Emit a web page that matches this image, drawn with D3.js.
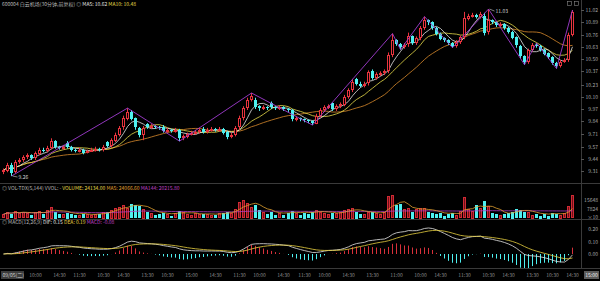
<!DOCTYPE html>
<html>
<head>
<meta charset="utf-8">
<script src="https://cdn.jsdelivr.net/npm/d3@7"></script>
<style>
  html, body { margin: 0; padding: 0; background: #000; }
  svg { display: block; font-family: "Noto Sans CJK SC", "Noto Sans", sans-serif; }
</style>
</head>
<body>
<div id="chart"></div>
<script>
// 600004 白云机场, 30 min bars
const opens = [9.30,9.32,9.38,9.30,9.41,9.43,9.46,9.48,9.45,9.50,
  9.54,9.53,9.56,9.63,9.57,9.56,9.61,9.57,9.54,9.53,
  9.54,9.51,9.53,9.54,9.55,9.54,9.62,9.58,9.64,9.70,
  9.77,9.87,9.94,9.87,9.77,9.70,9.81,9.78,9.79,9.78,
  9.78,9.74,9.75,9.74,9.75,9.66,9.68,9.71,9.72,9.73,
  9.76,9.73,9.75,9.76,9.75,9.76,9.73,9.68,9.70,9.77,
  9.87,9.98,10.07,10.07,10.00,9.98,9.99,10.03,9.99,9.98,
  9.99,9.97,9.96,9.86,9.87,9.86,9.85,9.84,9.82,9.90,
  9.96,9.99,10.03,9.97,10.00,10.02,10.10,10.17,10.29,10.24,
  10.22,10.24,10.37,10.30,10.34,10.35,10.37,10.54,10.70,10.66,
  10.63,10.65,10.74,10.67,10.72,10.83,10.91,10.89,10.83,10.77,
  10.72,10.70,10.67,10.64,10.68,10.73,10.93,10.96,10.97,10.95,
  10.96,10.78,10.91,10.89,10.86,10.87,10.83,10.79,10.73,10.64,
  10.53,10.47,10.60,10.65,10.64,10.60,10.56,10.52,10.46,10.43,
  10.47,10.49,10.76];
const highs = [9.34,9.40,9.40,9.43,9.45,9.48,9.50,9.49,9.52,9.56,
  9.56,9.58,9.66,9.64,9.58,9.59,9.63,9.58,9.55,9.56,
  9.55,9.54,9.56,9.57,9.56,9.59,9.63,9.66,9.72,9.79,
  9.90,9.98,9.96,9.88,9.78,9.79,9.82,9.81,9.80,9.79,
  9.80,9.77,9.76,9.77,9.76,9.70,9.72,9.74,9.75,9.77,
  9.78,9.77,9.78,9.77,9.78,9.77,9.74,9.72,9.79,9.90,
  10.00,10.09,10.14,10.09,10.01,10.01,10.00,10.05,10.00,10.01,
  10.00,9.98,9.97,9.89,9.88,9.87,9.86,9.85,9.92,9.98,
  10.01,10.02,10.04,10.02,10.04,10.12,10.19,10.29,10.30,10.26,
  10.26,10.38,10.39,10.36,10.37,10.39,10.57,10.77,10.71,10.67,
  10.67,10.78,10.75,10.74,10.85,10.95,10.92,10.90,10.84,10.78,
  10.73,10.71,10.68,10.70,10.75,11.00,10.98,10.99,10.98,11.00,
  10.99,11.03,10.92,10.90,10.89,10.88,10.84,10.80,10.74,10.65,
  10.54,10.61,10.67,10.67,10.65,10.61,10.57,10.53,10.47,10.49,
  10.51,10.78,11.02];
const lows = [9.28,9.30,9.26,9.29,9.39,9.41,9.44,9.43,9.43,9.48,
  9.51,9.51,9.54,9.55,9.54,9.54,9.55,9.52,9.51,9.51,
  9.49,9.50,9.52,9.52,9.52,9.52,9.56,9.56,9.62,9.68,
  9.75,9.85,9.85,9.75,9.67,9.64,9.76,9.76,9.76,9.75,
  9.72,9.72,9.72,9.72,9.63,9.64,9.66,9.69,9.70,9.71,
  9.71,9.71,9.73,9.73,9.73,9.70,9.65,9.66,9.68,9.75,
  9.85,9.96,10.05,9.97,9.95,9.96,9.96,9.97,9.96,9.96,
  9.95,9.94,9.84,9.84,9.84,9.83,9.82,9.80,9.81,9.88,
  9.94,9.97,9.95,9.95,9.98,10.00,10.08,10.15,10.22,10.20,
  10.20,10.22,10.28,10.28,10.32,10.33,10.35,10.52,10.64,10.60,
  10.61,10.63,10.65,10.65,10.70,10.81,10.86,10.81,10.75,10.70,
  10.68,10.65,10.62,10.62,10.66,10.71,10.91,10.94,10.93,10.93,
  10.75,10.76,10.87,10.84,10.84,10.81,10.77,10.71,10.62,10.51,
  10.44,10.45,10.58,10.62,10.58,10.54,10.50,10.44,10.40,10.41,
  10.46,10.47,10.74];
const closes = [9.32,9.38,9.30,9.41,9.43,9.46,9.48,9.45,9.50,9.54,
  9.53,9.56,9.63,9.57,9.56,9.57,9.57,9.54,9.53,9.54,
  9.51,9.53,9.54,9.55,9.54,9.57,9.58,9.64,9.70,9.77,
  9.87,9.94,9.87,9.77,9.70,9.77,9.78,9.79,9.78,9.77,
  9.74,9.75,9.74,9.75,9.66,9.68,9.71,9.72,9.73,9.75,
  9.73,9.75,9.76,9.75,9.76,9.72,9.68,9.70,9.77,9.87,
  9.98,10.07,10.11,10.00,9.98,9.99,9.98,9.99,9.98,9.99,
  9.97,9.96,9.86,9.87,9.86,9.85,9.84,9.82,9.90,9.96,
  9.99,10.00,9.97,10.00,10.02,10.10,10.17,10.26,10.24,10.22,
  10.24,10.36,10.30,10.34,10.35,10.37,10.54,10.70,10.66,10.63,
  10.65,10.74,10.67,10.72,10.83,10.91,10.89,10.83,10.77,10.72,
  10.70,10.67,10.64,10.68,10.73,10.93,10.96,10.97,10.95,10.98,
  10.78,10.91,10.89,10.86,10.87,10.83,10.79,10.73,10.64,10.53,
  10.47,10.60,10.65,10.64,10.60,10.56,10.52,10.46,10.43,10.47,
  10.49,10.76,11.00];
const volumes = [3700,5600,4650,6500,4600,5550,4700,3650,5600,6450,
  4650,7400,10200,6500,4600,3700,5650,4650,3700,2800,
  4650,3650,2850,3700,4600,5600,6500,7400,9300,10200,
  11200,9300,13000,12100,11200,8400,6500,4650,3700,4600,
  5600,3700,2800,4650,7400,5600,3700,2800,4650,3700,
  4650,3700,2850,3700,4600,5600,6500,4650,8400,14000,
  15800,13000,10200,12100,8400,5600,4650,6500,3700,4650,
  3700,5600,7400,4650,3700,5600,4650,6500,7400,5600,
  4650,3700,5600,4650,5600,7400,8400,9300,6500,4650,
  3700,5600,6500,4650,3700,5600,19000,19800,12000,12900,
  7800,8600,6800,7800,9400,8600,6000,5200,4300,5200,
  3400,4300,5200,3400,6000,18000,7800,6800,12000,8600,
  15400,10300,5200,4300,3400,4300,5200,6800,8600,7800,
  6000,5200,3400,4300,3400,4300,3400,5200,4300,3400,
  4300,10300,19700];

// zigzag turning points (bar index, price)
const swingIdx = [2, 31, 44, 62, 77, 97, 99, 105, 112, 121, 130, 133, 138, 142];
const swingPrice = [9.26, 9.98, 9.63, 10.14, 9.80, 10.77, 10.60, 10.95, 10.62, 11.03, 10.44, 10.67, 10.40, 11.02];

const priceTicks = [11.02, 10.89, 10.76, 10.63, 10.50, 10.37, 10.23, 10.10, 9.97, 9.84, 9.71, 9.57, 9.44, 9.31];
const volTicks = [15648, 7824];
const macdTicks = [0.20, 0.10, 0.00];
const timeIdx = [8, 14, 19, 25, 30, 36, 41, 47, 53, 59, 64, 70, 75, 80, 86, 92, 98, 104, 109, 115, 121, 126, 132, 137, 142];
const timeLabels = ["10:00","14:30","11:30","10:30","14:30","13:30","10:30","15:00","14:30","11:30","10:00","14:30",
  "11:30","10:00","14:30","13:30","11:00","10:00","14:30","11:30","10:30","14:30","13:30","10:30","14:30"];

const W = 600, H = 281;
const RED = "#e8343e", CYAN = "#4ef0f0";

const svg = d3.select("#chart").append("svg")
  .attr("width", W).attr("height", H)
  .style("background", "#000");

const N = closes.length;
const x = d3.scaleBand().domain(d3.range(N)).range([0, 575]).padding(0.28);
const bw = Math.max(1, Math.round(x.bandwidth()));
const cx = i => Math.round(x(i) + x.bandwidth() / 2) + 0.5;

const yPrice = d3.scaleLinear().domain([9.186, 11.126]).range([183, 0]);
const yVol = d3.scaleLinear().domain([0, 24800]).range([218.5, 189.5]);
const yMacd = d3.scaleLinear().domain([-0.112, 0.224]).range([268, 226]);

function ma(arr, n) {
  return arr.map((_, i) => d3.mean(arr.slice(Math.max(0, i - n + 1), i + 1)));
}
function ema(arr, n) {
  const k = 2 / (n + 1);
  let out = [];
  arr.forEach((v, i) => out.push(i === 0 ? v : v * k + out[i - 1] * (1 - k)));
  return out;
}

// frame
const frame = svg.append("g").attr("stroke", "#3a3a3a").attr("stroke-width", 1).attr("shape-rendering", "crispEdges");
[183.5, 219.5, 268.5].forEach(yy => frame.append("line").attr("x1", 0).attr("x2", W).attr("y1", yy).attr("y2", yy));
frame.append("line").attr("x1", 581.5).attr("x2", 581.5).attr("y1", 0).attr("y2", 268);

svg.append("defs").selectAll("clipPath")
  .data([["cMain", 0, 183], ["cVol", 184, 35], ["cMacd", 220, 48]])
  .enter().append("clipPath").attr("id", d => d[0])
  .append("rect").attr("x", 0).attr("y", d => d[1]).attr("width", 581).attr("height", d => d[2]);

// ---------- main candles ----------
const main = svg.append("g").attr("clip-path", "url(#cMain)");
const bars = d3.range(N);

const priceLine = d3.line().x((d, i) => cx(i)).y(d => yPrice(d));
[[20, "#d98a2c"], [10, "#e8dc4a"], [5, "#e6e6e6"]].forEach(([n, c]) => {
  main.append("path").datum(ma(closes, n)).attr("d", priceLine)
    .attr("fill", "none").attr("stroke", c).attr("stroke-width", 0.8);
});

main.append("g").selectAll("line").data(bars).enter().append("line")
  .attr("x1", cx).attr("x2", cx)
  .attr("y1", i => yPrice(highs[i])).attr("y2", i => yPrice(lows[i]))
  .attr("stroke", i => closes[i] >= opens[i] ? RED : CYAN).attr("stroke-width", 1);

main.append("g").attr("shape-rendering", "crispEdges").selectAll("rect").data(bars).enter().append("rect")
  .attr("x", i => cx(i) - bw / 2 + (closes[i] >= opens[i] ? 0.5 : 0))
  .attr("width", i => closes[i] >= opens[i] ? bw - 1 : bw)
  .attr("y", i => Math.round(yPrice(Math.max(opens[i], closes[i]))) + (closes[i] >= opens[i] ? 0.5 : 0))
  .attr("height", i => Math.max(1, Math.round(Math.abs(yPrice(opens[i]) - yPrice(closes[i]))) - (closes[i] >= opens[i] ? 1 : 0)))
  .attr("fill", i => closes[i] >= opens[i] ? "#000" : CYAN)
  .attr("stroke", i => closes[i] >= opens[i] ? RED : "none")
  .attr("stroke-width", 1);

main.append("path")
  .datum(swingIdx.map((k, j) => [cx(k), yPrice(swingPrice[j])]))
  .attr("d", d3.line())
  .attr("fill", "none").attr("stroke", "#a03cd0").attr("stroke-width", 0.9);

// max / min markers
const iMax = d3.maxIndex(highs.slice(0, N - 1));
const iMin = d3.minIndex(lows);
[[iMax, highs[iMax], 0], [iMin, lows[iMin], 1]].forEach(([k, p, lo]) => {
  const x0 = cx(k) + 1, y0 = yPrice(p);
  main.append("line").attr("x1", x0).attr("x2", x0 + 5).attr("y1", y0).attr("y2", y0 + (lo ? 1 : 2))
    .attr("stroke", "#cfcfcf").attr("stroke-width", 0.6);
  main.append("text").attr("x", x0 + 6).attr("y", y0 + (lo ? 3 : 4))
    .attr("font-size", 5).attr("fill", "#d8d8d8").text(p.toFixed(2));
});

// ---------- volume ----------
const vol = svg.append("g").attr("clip-path", "url(#cVol)");
vol.append("g").attr("shape-rendering", "crispEdges").selectAll("rect").data(bars).enter().append("rect")
  .attr("x", i => cx(i) - bw / 2 + (closes[i] >= opens[i] ? 0.5 : 0))
  .attr("width", i => closes[i] >= opens[i] ? bw - 1 : bw)
  .attr("y", i => Math.round(yVol(volumes[i])) + 0.5)
  .attr("height", i => Math.max(1, Math.round(yVol(0) - yVol(volumes[i])) - 1))
  .attr("fill", i => closes[i] >= opens[i] ? "#6e1018" : CYAN)
  .attr("stroke", i => closes[i] >= opens[i] ? "#d02a34" : "none");

const volLine = d3.line().x((d, i) => cx(i)).y(d => yVol(d));
vol.append("path").datum(ma(volumes, 144)).attr("d", volLine)
  .attr("fill", "none").attr("stroke", "#b13cc0").attr("stroke-width", 0.8);
vol.append("path").datum(ma(volumes, 5)).attr("d", volLine)
  .attr("fill", "none").attr("stroke", "#e0a030").attr("stroke-width", 0.8);

// ---------- MACD ----------
const e12 = ema(closes, 12), e26 = ema(closes, 26);
const dif = e12.map((v, i) => v - e26[i]);
const dea = ema(dif, 9);
const hist = dif.map((v, i) => 2 * (v - dea[i]));

const macd = svg.append("g").attr("clip-path", "url(#cMacd)");
macd.append("g").selectAll("line").data(bars).enter().append("line")
  .attr("x1", cx).attr("x2", cx)
  .attr("y1", yMacd(0)).attr("y2", i => yMacd(hist[i]))
  .attr("stroke", i => hist[i] >= 0 ? "#d8303a" : CYAN).attr("stroke-width", 1);
const macdLine = d3.line().x((d, i) => cx(i)).y(d => yMacd(d));
macd.append("path").datum(dif).attr("d", macdLine).attr("fill", "none").attr("stroke", "#e4e4e4").attr("stroke-width", 0.8);
macd.append("path").datum(dea).attr("d", macdLine).attr("fill", "none").attr("stroke", "#e8d040").attr("stroke-width", 0.8);

// ---------- right axes ----------
const axisG = svg.append("g").attr("font-size", 5).attr("fill", "#a8a8a8").attr("text-anchor", "end");
priceTicks.forEach(p => axisG.append("text").attr("x", 598).attr("y", yPrice(p) + 2).text(p.toFixed(2)));
volTicks.forEach(v => axisG.append("text").attr("x", 598).attr("y", yVol(v) + 2).text(v));
axisG.append("text").attr("x", 598).attr("y", 218.5).text("×10");
macdTicks.forEach(v => axisG.append("text").attr("x", 598).attr("y", yMacd(v) + 2).text(v.toFixed(2)));
const tickG = svg.append("g").attr("stroke", "#555").attr("shape-rendering", "crispEdges");
priceTicks.forEach(p => tickG.append("line").attr("x1", 581).attr("x2", 584).attr("y1", Math.round(yPrice(p)) + 0.5).attr("y2", Math.round(yPrice(p)) + 0.5));

// ---------- time axis ----------
const tG = svg.append("g").attr("font-size", 5).attr("fill", "#8c8c8c").attr("text-anchor", "middle");
timeIdx.forEach((k, j) => tG.append("text").attr("x", cx(k)).attr("y", 277).text(timeLabels[j]));
svg.append("rect").attr("x", 1).attr("y", 271).attr("width", 23).attr("height", 8).attr("fill", "#3c3c3c");
svg.append("text").attr("x", 2.5).attr("y", 277).attr("font-size", 5).attr("fill", "#d0d0d0").text("09/05(二)");
svg.append("rect").attr("x", 584).attr("y", 271).attr("width", 15).attr("height", 8).attr("fill", "#5a5a5a");
svg.append("text").attr("x", 591.5).attr("y", 277).attr("font-size", 5).attr("fill", "#f0f0f0").attr("text-anchor", "middle").text("15:00");

// ---------- headers ----------
function header(yy, parts) {
  const t = svg.append("text").attr("x", 2).attr("y", yy).attr("font-size", 5);
  parts.forEach(([s, c]) => t.append("tspan").attr("fill", c).text(s));
}
header(6, [["600004 白云机场(30分钟,前复权)  ", "#b8b8b8"], ["◎ ", "#b8b8b8"],
  ["MA5: 10.62  ", "#e6e6e6"], ["MA10: 10.48", "#e8dc4a"]]);
header(190, [["◎ VOL-TDX(5,144)  VVOL: -   ", "#b8b8b8"], ["VOLUME: 24134.00  ", "#e8dc4a"],
  ["MA5: 24066.60  ", "#e0a030"], ["MA144: 20215.80", "#c040c8"]]);
header(224, [["◎ MACD(12,26,9)  ", "#b8b8b8"], ["DIF: 0.15  ", "#e4e4e4"],
  ["DEA: 0.19  ", "#e8d040"], ["MACD: -0.08", "#c040c8"]]);

// small icons top right
const ic = svg.append("g").attr("fill", "none").attr("stroke", "#888").attr("stroke-width", 0.6);
ic.append("rect").attr("x", 567.5).attr("y", 1.5).attr("width", 4).attr("height", 4);
ic.append("rect").attr("x", 574.5).attr("y", 1.5).attr("width", 4).attr("height", 4);
</script>
</body>
</html>
